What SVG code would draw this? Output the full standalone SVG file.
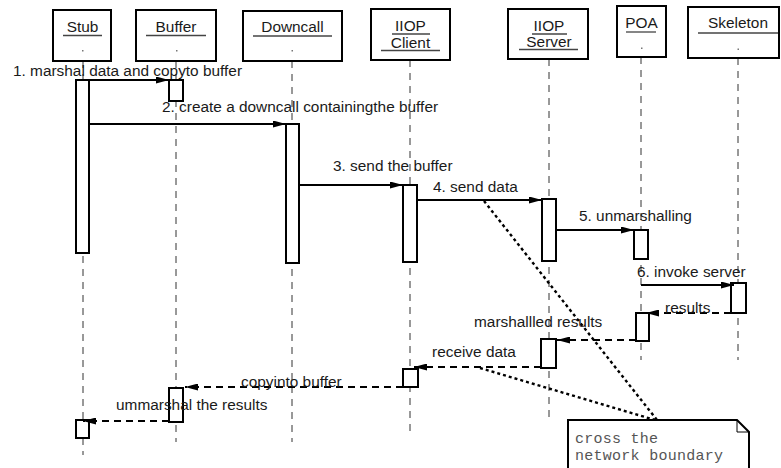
<svg xmlns="http://www.w3.org/2000/svg" width="781" height="468" viewBox="0 0 781 468">
  <style>
    .obj { fill: #fff; stroke: #000; stroke-width: 2; }
    .name { font-family: "Liberation Sans", Arial, sans-serif; font-size: 15.4px; fill: #1a1a1a; text-anchor: middle; }
    .uline { stroke: #444; stroke-width: 1.3; }
    .dot { fill: #777; }
    .life { stroke: #333; stroke-width: 1; stroke-dasharray: 7 6; fill: none; }
    .act { fill: #fff; stroke: #000; stroke-width: 2; }
    .call { stroke: #000; stroke-width: 2; fill: none; marker-end: url(#head); }
    .ret { stroke: #000; stroke-width: 2; fill: none; stroke-dasharray: 7 5; marker-end: url(#head); }
    .lbl { font-family: "Liberation Sans", Arial, sans-serif; font-size: 15.4px; fill: #1a1a1a; }
    .anchor { stroke: #000; stroke-width: 2.4; stroke-dasharray: 3 3; fill: none; }
    .note { fill: #fff; stroke: #000; stroke-width: 2; }
    .fold { fill: none; stroke: #000; stroke-width: 1; }
    .notetext { font-family: "Liberation Mono", "Courier New", monospace; font-size: 15px; fill: #555; }
  </style>
  <defs>
    <marker id="head" viewBox="0 0 13 7" refX="13" refY="3.5" markerWidth="13" markerHeight="7" markerUnits="userSpaceOnUse" orient="auto">
      <path d="M0,0 L13,3.5 L0,7 Z" fill="#000"/>
    </marker>
  </defs>

  <rect width="781" height="468" fill="#fff"/>

  <!-- lifelines -->
  <g id="lifelines">
    <line class="life" x1="83" y1="61" x2="83" y2="455"/>
    <line class="life" x1="176" y1="61" x2="176" y2="442"/>
    <line class="life" x1="292" y1="61" x2="292" y2="442"/>
    <line class="life" x1="410" y1="60" x2="410" y2="433"/>
    <line class="life" x1="549" y1="59" x2="549" y2="417"/>
    <line class="life" x1="641" y1="57" x2="641" y2="360"/>
    <line class="life" x1="738" y1="58" x2="738" y2="360"/>
  </g>

  <!-- objects -->
  <g id="stub">
    <rect class="obj" x="53" y="10" width="58" height="51"/>
    <text class="name" x="82.5" y="32">Stub</text>
    <line class="uline" x1="63" y1="35.5" x2="102" y2="35.5"/>
    <rect class="dot" x="82" y="50" width="1.5" height="1.5"/>
  </g>
  <g id="buffer">
    <rect class="obj" x="136" y="10" width="80" height="51"/>
    <text class="name" x="176" y="32">Buffer</text>
    <line class="uline" x1="146" y1="35.5" x2="206" y2="35.5"/>
    <rect class="dot" x="176" y="50" width="1.5" height="1.5"/>
  </g>
  <g id="downcall">
    <rect class="obj" x="243" y="11" width="99" height="50"/>
    <text class="name" x="292.5" y="32">Downcall</text>
    <line class="uline" x1="253" y1="36" x2="332" y2="36"/>
    <rect class="dot" x="291.5" y="50" width="1.5" height="1.5"/>
  </g>
  <g id="iiop-client">
    <rect class="obj" x="371" y="9" width="79" height="51"/>
    <text class="name" x="410.5" y="31">IIOP</text>
    <line class="uline" x1="392" y1="34" x2="430" y2="34"/>
    <text class="name" x="410.5" y="47.5">Client</text>
    <line class="uline" x1="381" y1="50.5" x2="440" y2="50.5"/>
  </g>
  <g id="iiop-server">
    <rect class="obj" x="508" y="9" width="80" height="50"/>
    <text class="name" x="549" y="31">IIOP</text>
    <line class="uline" x1="532" y1="34" x2="567" y2="34"/>
    <text class="name" x="549" y="47">Server</text>
    <line class="uline" x1="519" y1="49.5" x2="578" y2="49.5"/>
  </g>
  <g id="poa">
    <rect class="obj" x="617" y="6" width="49" height="51"/>
    <text class="name" x="641.5" y="28">POA</text>
    <line class="uline" x1="626" y1="32" x2="656" y2="32"/>
    <rect class="dot" x="641" y="47.5" width="1.5" height="1.5"/>
  </g>
  <g id="skeleton">
    <rect class="obj" x="688" y="7" width="91" height="51"/>
    <text class="name" x="738" y="28">Skeleton</text>
    <line class="uline" x1="698" y1="33" x2="778" y2="33"/>
    <rect class="dot" x="737.5" y="48.5" width="1.5" height="1.5"/>
  </g>

  <!-- activations -->
  <g id="activations">
    <rect class="act" x="76" y="80" width="13" height="173"/>
    <rect class="act" x="169" y="80" width="14" height="21"/>
    <rect class="act" x="286" y="124" width="13" height="139"/>
    <rect class="act" x="403" y="185" width="14" height="77"/>
    <rect class="act" x="542" y="199" width="14" height="62"/>
    <rect class="act" x="634" y="230" width="14" height="29"/>
    <rect class="act" x="731" y="283" width="15" height="30"/>
    <rect class="act" x="636" y="313" width="13" height="28"/>
    <rect class="act" x="541" y="339" width="15" height="29"/>
    <rect class="act" x="403" y="369" width="15" height="18"/>
    <rect class="act" x="169" y="388" width="14" height="34"/>
    <rect class="act" x="76" y="420" width="13" height="18"/>
  </g>

  <!-- messages -->
  <g id="connectors">
    <line class="call" x1="89" y1="80" x2="169" y2="80"/>
    <line class="call" x1="89" y1="124" x2="286" y2="124"/>
    <line class="call" x1="299" y1="185" x2="403" y2="185"/>
    <line class="call" x1="417" y1="200" x2="542" y2="200"/>
    <line class="call" x1="556" y1="230" x2="634" y2="230"/>
    <line class="call" x1="641" y1="285" x2="734" y2="285"/>
    <line class="ret" x1="731" y1="313" x2="646" y2="313"/>
    <line class="ret" x1="636" y1="340" x2="557" y2="340"/>
    <line class="ret" x1="541" y1="367" x2="414" y2="367"/>
    <line class="ret" x1="403" y1="387" x2="185" y2="387"/>
    <line class="ret" x1="169" y1="421" x2="83" y2="421"/>
    <line class="anchor" x1="484" y1="201" x2="657" y2="420"/>
    <line class="anchor" x1="480" y1="368" x2="655" y2="420"/>
  </g>

  <!-- message labels -->
  <g id="labels">
    <text class="lbl" x="13" y="76">1. marshal data and copyto buffer</text>
    <text class="lbl" x="162" y="111.5">2. create a downcall containingthe buffer</text>
    <text class="lbl" x="333" y="171">3. send the buffer</text>
    <text class="lbl" x="433" y="191.5">4. send data</text>
    <text class="lbl" x="579" y="220.5">5. unmarshalling</text>
    <text class="lbl" x="637" y="277">6. invoke server</text>
    <text class="lbl" x="665" y="312.5">results</text>
    <text class="lbl" x="474" y="326.5">marshallled results</text>
    <text class="lbl" x="432" y="356.5">receive data</text>
    <text class="lbl" x="241" y="386.5">copyinto buffer</text>
    <text class="lbl" x="116" y="410">ummarshal the results</text>
  </g>

  <!-- note -->
  <g id="note">
    <path class="note" d="M568,420 H737 L749,432 V472 H568 Z"/>
    <path class="fold" d="M737,420 V432 H749"/>
    <text class="notetext" x="575" y="443" textLength="83" lengthAdjust="spacing">cross the</text>
    <text class="notetext" x="575" y="460" textLength="148" lengthAdjust="spacing">network boundary</text>
  </g>
</svg>
